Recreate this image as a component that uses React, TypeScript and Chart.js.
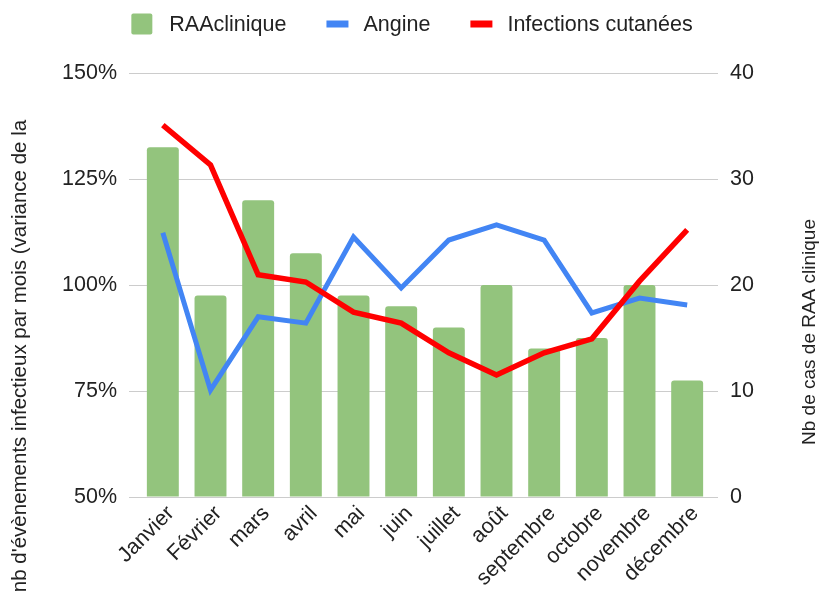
import React, { useEffect, useRef } from "react";
import { Chart, registerables } from "chart.js";

Chart.register(...registerables);

const months = ["Janvier", "Février", "mars", "avril", "mai", "juin", "juillet", "août", "septembre", "octobre", "novembre", "décembre"];
const raaClinique = [33, 19, 28, 23, 19, 18, 16, 20, 14, 15, 20, 11];
const angine = [112.3, 75.2, 92.5, 91, 111.3, 99.3, 110.6, 114.2, 110.6, 93.4, 96.9, 95.3];
const infections = [137.7, 128.3, 102.4, 100.7, 93.6, 91, 84, 78.8, 84, 87.3, 100.9, 113];
const leftTicks = [50, 75, 100, 125, 150];
const rightTicks = [0, 10, 20, 30, 40];

const seriesNames = ["RAAclinique", "Angine", "Infections cutanées"];
const leftTitle = "nb d'évènements infectieux par mois (variance de la";
const rightTitle = "Nb de cas de RAA clinique";

const FONT = "'Liberation Sans', Arial, sans-serif";
const TEXT = "#222222";
const GRID = "#cccccc";
const GREEN = "#93c47d";
const BLUE = "#4285f4";
const RED = "#ff0000";

const overlayPlugin = {
  id: "overlay",
  afterDraw(chart: any) {
    const ctx = chart.ctx;
    ctx.save();
    // legend
    ctx.font = `21.5px ${FONT}`;
    ctx.textBaseline = "middle";
    const symW = [21, 22, 22];
    const gapSym = [17, 15, 15];
    const itemGap = 40;
    const widths = seriesNames.map((n) => ctx.measureText(n).width);
    let total = 0;
    seriesNames.forEach((_, i) => {
      total += symW[i] + gapSym[i] + widths[i];
      if (i < seriesNames.length - 1) total += itemGap;
    });
    let x = 412 - total / 2;
    const cy = 24;
    const colors = [GREEN, BLUE, RED];
    seriesNames.forEach((n, i) => {
      ctx.fillStyle = colors[i];
      if (i === 0) {
        ctx.beginPath();
        (ctx as any).roundRect(x, cy - 10.5, 21, 21, 2);
        ctx.fill();
      } else {
        ctx.fillRect(x, cy - 3.5, symW[i], 7);
      }
      x += symW[i] + gapSym[i];
      ctx.fillStyle = TEXT;
      ctx.textAlign = "left";
      ctx.fillText(n, x, cy + 1);
      x += widths[i] + itemGap;
    });
    // axis titles
    ctx.fillStyle = TEXT;
    ctx.textAlign = "center";
    ctx.textBaseline = "middle";
    ctx.font = `20.5px ${FONT}`;
    ctx.save();
    ctx.translate(20, 356);
    ctx.rotate(-Math.PI / 2);
    ctx.fillText(leftTitle, 0, 0);
    ctx.restore();
    ctx.font = `19px ${FONT}`;
    ctx.save();
    ctx.translate(810, 332);
    ctx.rotate(-Math.PI / 2);
    ctx.fillText(rightTitle, 0, 0);
    ctx.restore();
    ctx.restore();
  },
};

export default function App() {
  const ref = useRef<HTMLCanvasElement | null>(null);
  useEffect(() => {
    if (!ref.current) return;
    const chart = new Chart(ref.current, {
      type: "bar",
      data: {
        labels: months,
        datasets: [
          {
            type: "line",
            label: seriesNames[2],
            data: infections,
            yAxisID: "y",
            borderColor: RED,
            backgroundColor: RED,
            borderWidth: 5.5,
            pointRadius: 0,
            tension: 0,
            order: 1,
          } as any,
          {
            type: "line",
            label: seriesNames[1],
            data: angine,
            yAxisID: "y",
            borderColor: BLUE,
            backgroundColor: BLUE,
            borderWidth: 5,
            pointRadius: 0,
            tension: 0,
            order: 2,
          } as any,
          {
            type: "bar",
            label: seriesNames[0],
            data: raaClinique,
            yAxisID: "y1",
            backgroundColor: GREEN,
            borderRadius: { topLeft: 3, topRight: 3, bottomLeft: 0, bottomRight: 0 },
            borderSkipped: "bottom",
            barPercentage: 0.67,
            categoryPercentage: 1,
            order: 3,
          } as any,
        ],
      },
      options: {
        responsive: false,
        animation: false,
        layout: { padding: { top: 73, left: 0, right: 0, bottom: 0 } },
        plugins: { legend: { display: false }, tooltip: { enabled: false } },
        scales: {
          x: {
            grid: { display: false },
            border: { display: false },
            ticks: {
              color: TEXT,
              font: { family: FONT, size: 21.5 },
              minRotation: 45,
              maxRotation: 45,
              padding: -4,
              labelOffset: 8,
              autoSkip: false,
            },
            afterFit: (s: any) => {
              s.height = 102;
            },
          },
          y: {
            position: "left",
            min: 50,
            max: 150,
            afterBuildTicks: (s: any) => {
              s.ticks = leftTicks.map((v) => ({ value: v }));
            },
            ticks: {
              color: TEXT,
              font: { family: FONT, size: 21.5 },
              padding: 12,
              callback: (v: any) => `${v}%`,
            },
            grid: { color: GRID, lineWidth: 1, tickLength: 10, drawTicks: true },
            border: { display: false },
            afterFit: (s: any) => {
              s.width = 139;
            },
          },
          y1: {
            position: "right",
            min: 0,
            max: 40,
            afterBuildTicks: (s: any) => {
              s.ticks = rightTicks.map((v) => ({ value: v }));
            },
            ticks: {
              color: TEXT,
              font: { family: FONT, size: 21.5 },
              padding: 12,
            },
            grid: { color: GRID, lineWidth: 1, tickLength: 7, drawOnChartArea: false, drawTicks: true },
            border: { display: false },
            afterFit: (s: any) => {
              s.width = 109;
            },
          },
        },
      } as any,
      plugins: [overlayPlugin],
    });
    return () => chart.destroy();
  }, []);
  return (
    <div style={{ position: "absolute", left: 0, top: 0, width: 820, height: 599, background: "#fff" }}>
      <canvas ref={ref} width={820} height={599} style={{ width: 820, height: 599, display: "block" }} />
    </div>
  );
}
